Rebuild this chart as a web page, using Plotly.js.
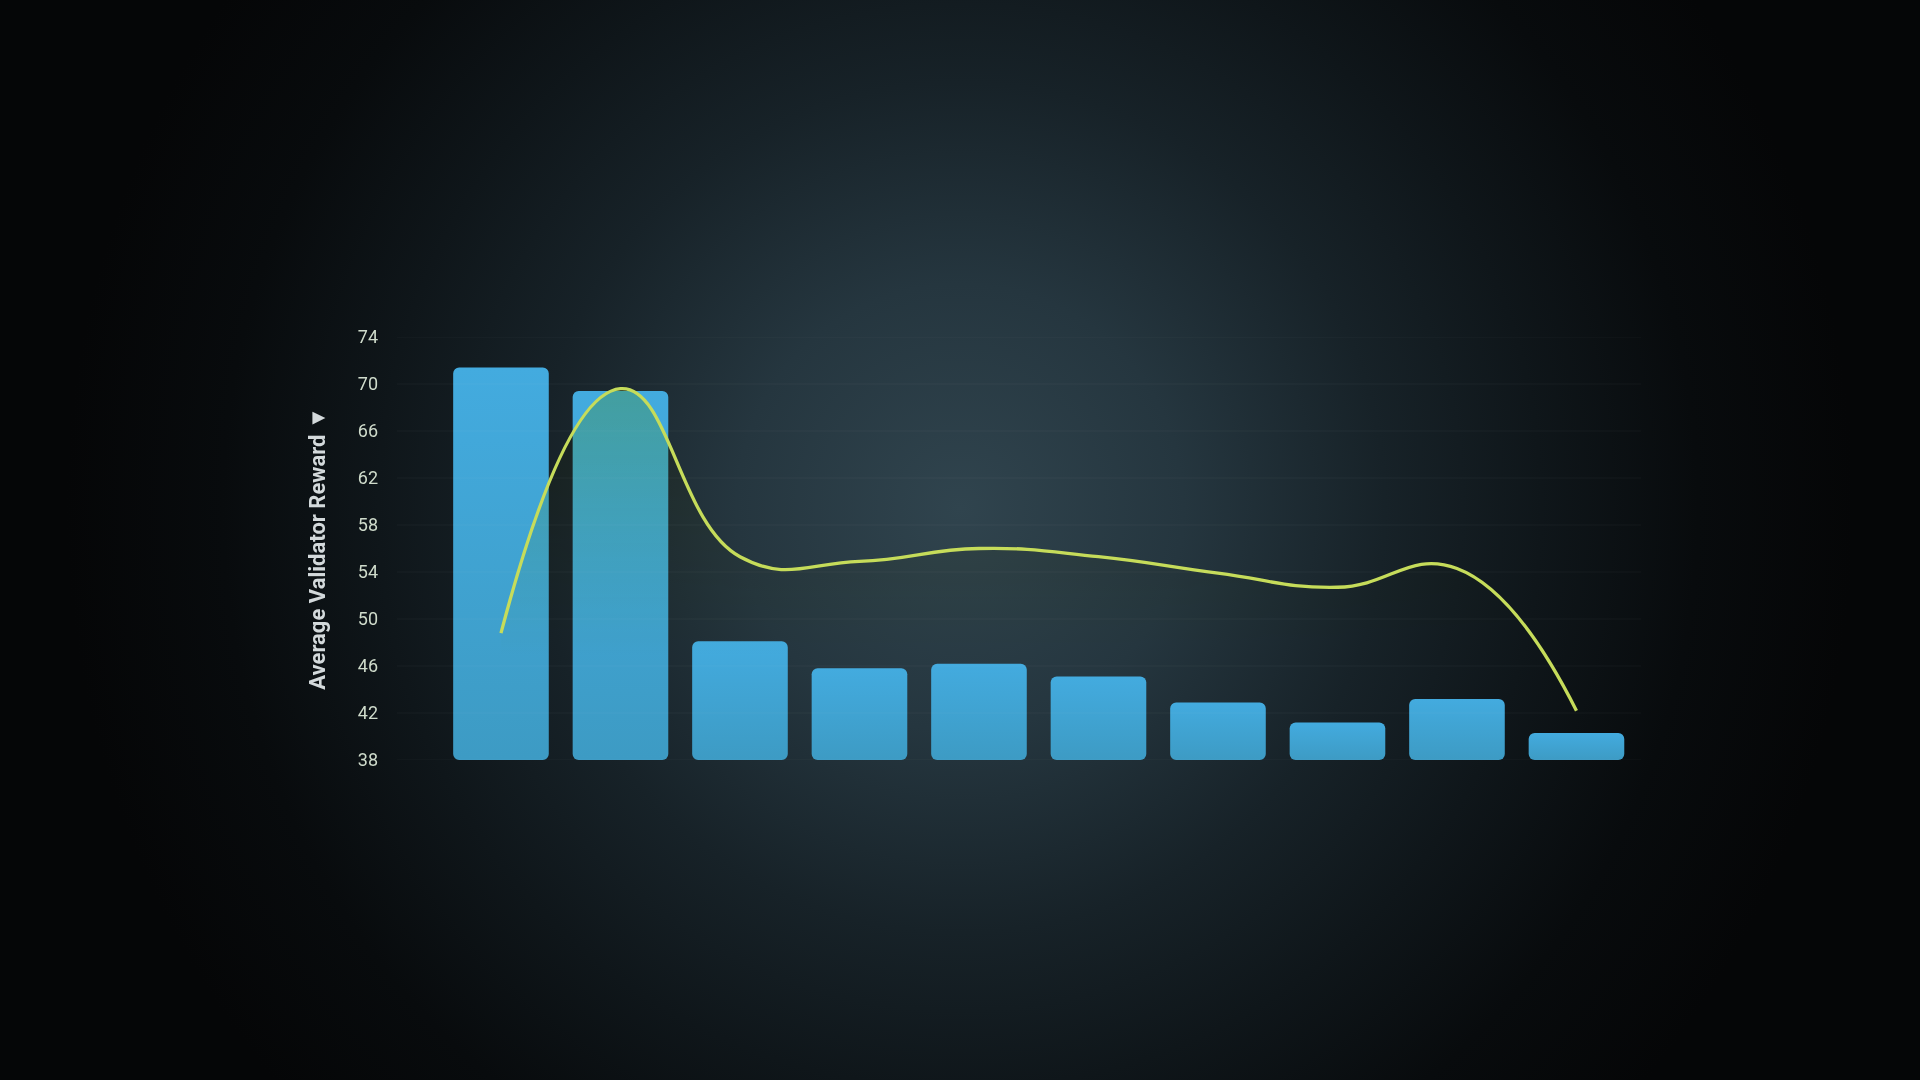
<!DOCTYPE html>
<html>
<head>
<meta charset="utf-8">
<script src="https://cdn.plot.ly/plotly-3.0.1.min.js"></script>
<style>
    html, body {
        margin: 0;
        padding: 0;
        width: 1920px;
        height: 1080px;
        overflow: hidden;
        background: #050607;
    }
    #chart {
        width: 1920px;
        height: 1080px;
    }
    /* page glow painted on the plot svg itself so the blend below has a backdrop */
    #chart .main-svg:first-of-type {
        background: radial-gradient(circle at 50% 47%, #30444e 0%, #25363f 20%, #172228 38%, #0f161a 52%, #080b0d 66%, #050607 80%) !important;
    }
    /* no clip groups, they would isolate the blend from the backdrop */
    #chart .cartesianlayer [clip-path] {
        clip-path: none !important;
    }
    /* bars get a soft top-to-bottom gradient */
    #chart .barlayer .point path {
        fill: url(#barGrad) !important;
    }
    /* area under the trend line tints the bars only */
    #chart .scatterlayer .js-fill {
        mix-blend-mode: multiply;
    }
</style>
</head>
<body>
<svg width="0" height="0" style="position:absolute">
    <defs>
        <linearGradient id="barGrad" x1="0" y1="0" x2="0" y2="1">
            <stop offset="0" stop-color="#43abdf"/>
            <stop offset="1" stop-color="#3d9bc4"/>
        </linearGradient>
    </defs>
</svg>
<div id="chart"></div>
<script>
// Chart data
const categories = ['V1', 'V2', 'V3', 'V4', 'V5', 'V6', 'V7', 'V8', 'V9', 'V10'];
const rewardBars = [71.4, 69.4, 48.1, 45.8, 46.2, 45.1, 42.9, 41.2, 43.2, 40.3];
const rewardTrend = [48.8, 69.6, 55.3, 54.9, 56.0, 55.3, 53.9, 52.7, 54.3, 42.2];
const yTicks = [38, 42, 46, 50, 54, 58, 62, 66, 70, 74];

const barTrace = {
    type: 'bar',
    x: categories,
    y: rewardBars.map(v => v - yTicks[0]),
    base: yTicks[0],
    marker: {
        color: '#40a5d6',
        cornerradius: 6,
        line: { width: 0 }
    },
    hoverinfo: 'skip'
};

const trendTrace = {
    type: 'scatter',
    mode: 'lines',
    x: categories,
    y: rewardTrend,
    line: { color: '#c6dc5a', width: 3.3, shape: 'spline', smoothing: 1.3 },
    fill: 'tozeroy',
    fillgradient: {
        type: 'vertical',
        start: 47,
        stop: 70,
        colorscale: [
            [0, 'rgba(255, 242, 195, 0)'],
            [1, 'rgba(255, 236, 180, 1)']
        ]
    },
    hoverinfo: 'skip'
};

// faint grid drawn over the bars
const gridShapes = yTicks.map(v => ({
    type: 'line',
    xref: 'paper',
    x0: 0,
    x1: 1,
    yref: 'y',
    y0: v,
    y1: v,
    layer: 'above',
    line: { color: 'rgba(255, 255, 255, 0.045)', width: 1.2 }
}));

const layout = {
    width: 1920,
    height: 1080,
    margin: { l: 397, r: 279, t: 337, b: 320 },
    paper_bgcolor: 'rgba(0,0,0,0)',
    plot_bgcolor: 'rgba(0,0,0,0)',
    showlegend: false,
    bargap: 0.2,
    xaxis: {
        type: 'category',
        range: [-0.87, 9.54],
        showticklabels: false,
        showgrid: false,
        zeroline: false,
        showline: false,
        ticks: ''
    },
    yaxis: {
        range: [38, 74],
        tickvals: yTicks,
        showgrid: false,
        zeroline: false,
        showline: false,
        ticks: '',
        ticklabelstandoff: 18,
        tickfont: { family: 'Roboto, sans-serif', size: 18, color: '#cfdbcb' },
        title: {
            text: 'Average Validator Reward ▼',
            standoff: 26,
            font: { family: 'Roboto, sans-serif', size: 22, color: '#d3d9db', weight: 700 }
        }
    },
    shapes: gridShapes
};

Plotly.newPlot('chart', [barTrace, trendTrace], layout, { displayModeBar: false, staticPlot: true });
</script>
</body>
</html>
